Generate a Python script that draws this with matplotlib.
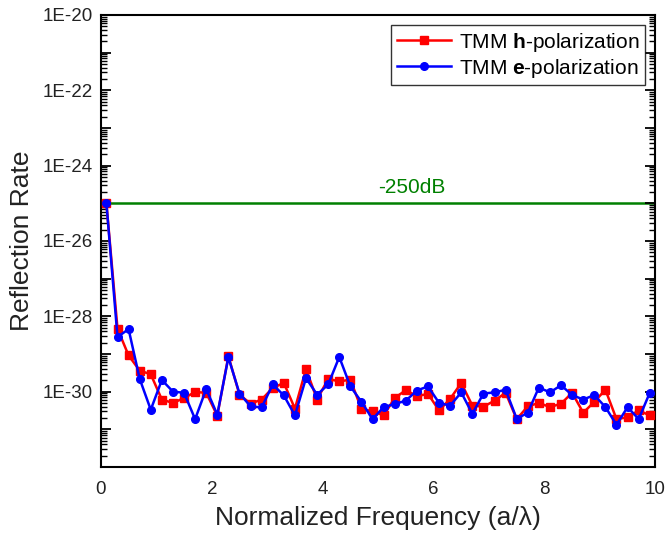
import numpy as np
import matplotlib
matplotlib.use("Agg")
import matplotlib.pyplot as plt
from matplotlib.ticker import FixedLocator, FuncFormatter, LogLocator, NullFormatter

plt.rcParams["font.family"] = ["Liberation Sans", "DejaVu Sans"]
plt.rcParams["mathtext.fontset"] = "custom"
plt.rcParams["mathtext.rm"] = "Liberation Sans"
plt.rcParams["mathtext.bf"] = "Liberation Sans:bold"

# normalized frequency, 0.1 .. 9.9 step 0.2
freq = [0.1, 0.3, 0.5, 0.7, 0.9, 1.1, 1.3, 1.5, 1.7, 1.9,
        2.1, 2.3, 2.5, 2.7, 2.9, 3.1, 3.3, 3.5, 3.7, 3.9,
        4.1, 4.3, 4.5, 4.7, 4.9, 5.1, 5.3, 5.5, 5.7, 5.9,
        6.1, 6.3, 6.5, 6.7, 6.9, 7.1, 7.3, 7.5, 7.7, 7.9,
        8.1, 8.3, 8.5, 8.7, 8.9, 9.1, 9.3, 9.5, 9.7, 9.9]

# log10 of reflection rate
h_log = [-25.0, -28.33, -29.04, -29.44, -29.54, -30.21, -30.30, -30.17, -30.01, -30.03,
         -30.64, -29.06, -30.08, -30.32, -30.21, -29.90, -29.77, -30.45, -29.40, -30.21,
         -29.66, -29.73, -29.68, -30.46, -30.52, -30.63, -30.17, -29.96, -30.12, -30.06,
         -30.50, -30.19, -29.77, -30.37, -30.40, -30.24, -30.03, -30.73, -30.39, -30.30,
         -30.41, -30.32, -30.03, -30.56, -30.27, -29.95, -30.73, -30.68, -30.50, -30.63]
e_log = [-25.0, -28.55, -28.34, -29.66, -30.48, -29.69, -30.00, -30.03, -30.73, -29.93,
         -30.61, -29.09, -30.05, -30.39, -30.42, -29.81, -30.10, -30.63, -29.64, -30.08,
         -29.81, -29.08, -29.86, -30.27, -30.73, -30.41, -30.33, -30.24, -29.97, -29.86,
         -30.30, -30.37, -30.02, -30.59, -30.05, -30.02, -29.95, -30.72, -30.56, -29.89,
         -30.02, -29.83, -30.09, -30.21, -30.09, -30.41, -30.88, -30.41, -30.73, -30.03]

threshold = 1e-25  # -250 dB

h_vals = np.power(10.0, h_log)
e_vals = np.power(10.0, e_log)

fig = plt.figure(figsize=(6.68, 5.34), dpi=100)
ax = fig.add_axes([0.151, 0.1255, 0.830, 0.8465])

ax.axhline(threshold, color="#008000", lw=1.8, zorder=1)
ax.text(5.6, 1.5e-25, "-250dB", color="#008000", fontsize=15, ha="center", va="bottom")

ax.plot(freq, h_vals, color="#ff0000", lw=1.8, marker="s", ms=5.5,
        label=r"TMM $\mathbf{h}$-polarization", zorder=3)
ax.plot(freq, e_vals, color="#0000ff", lw=1.8, marker="o", ms=5.5,
        label=r"TMM $\mathbf{e}$-polarization", zorder=4)

ax.set_yscale("log")
ax.set_xlim(0, 10)
ax.set_ylim(1e-32, 1e-20)

ax.set_xticks([0, 2, 4, 6, 8, 10])
ax.yaxis.set_major_locator(FixedLocator([10.0 ** k for k in range(-32, -19)]))
ax.yaxis.set_major_formatter(FuncFormatter(
    lambda v, p: "1E%d" % round(np.log10(v)) if round(np.log10(v)) % 2 == 0 and round(np.log10(v)) > -32 else ""))
ax.yaxis.set_minor_locator(LogLocator(base=10, subs=np.arange(2, 10), numticks=100))
ax.yaxis.set_minor_formatter(NullFormatter())

ax.tick_params(axis="y", which="major", direction="in", length=7, width=1.3,
               left=True, right=True, labelsize=13.5, pad=6, labelcolor="#222222")
ax.tick_params(axis="y", which="minor", direction="in", length=4, width=1.0,
               left=True, right=True)
ax.tick_params(axis="x", which="major", length=0, labelsize=13.5, pad=10,
               labelcolor="#222222")

for sp in ax.spines.values():
    sp.set_linewidth(1.5)

ax.set_xlabel("Normalized Frequency (a/\u03bb)", fontsize=19, labelpad=6, color="#222222")
ax.set_ylabel("Reflection Rate", fontsize=19, labelpad=6, color="#222222")

leg = ax.legend(loc="upper right", fontsize=15, frameon=True, fancybox=False,
                edgecolor="black", borderpad=0.25, handlelength=2.6,
                handletextpad=0.4, labelspacing=0.15, borderaxespad=0.5)
leg.get_frame().set_linewidth(1.0)

fig.savefig("out.png", dpi=100)
